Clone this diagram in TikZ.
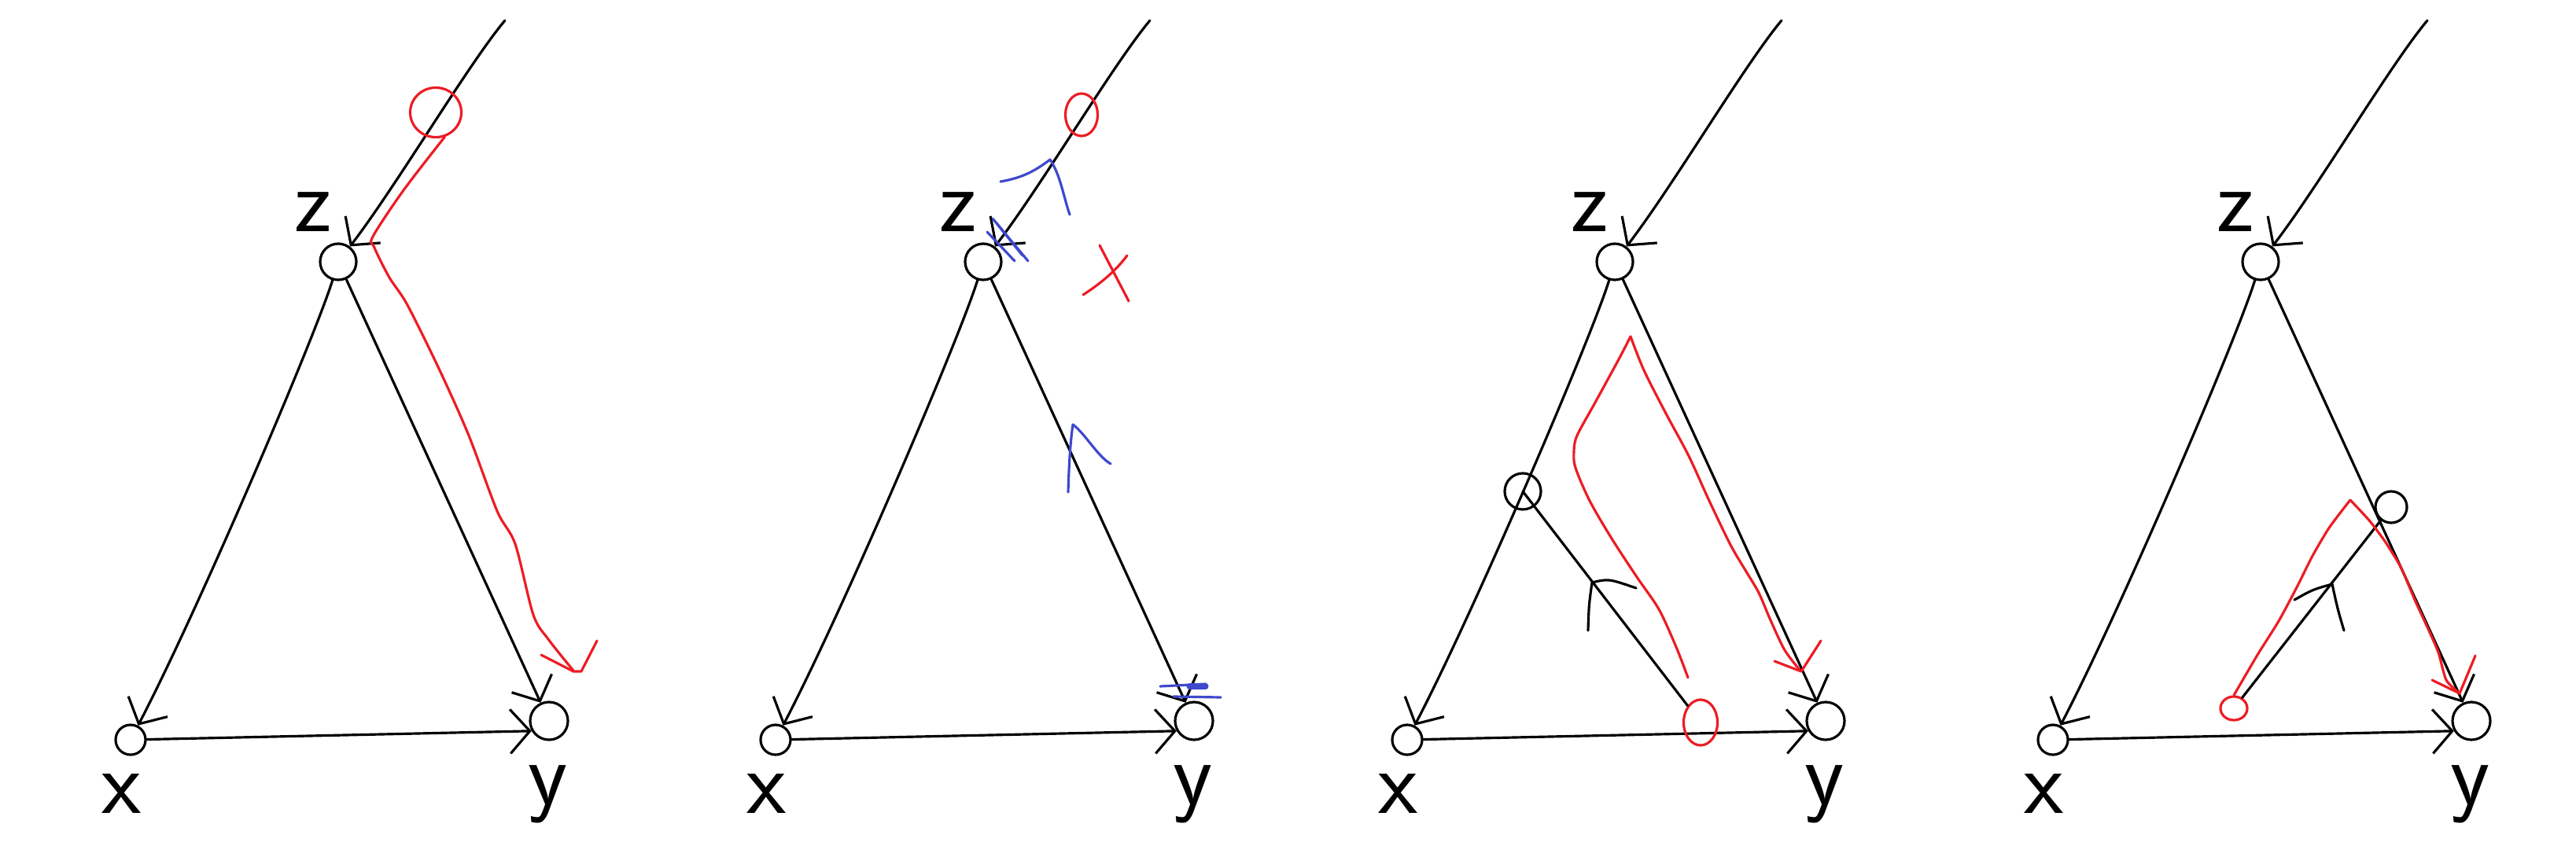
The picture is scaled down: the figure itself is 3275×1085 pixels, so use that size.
\documentclass[tikz,border=0pt]{standalone}
\usepackage{fontspec}
\usetikzlibrary{arrows.meta,shapes.geometric}
\definecolor{penred}{RGB}{236,28,36}
\definecolor{penblue}{RGB}{63,72,204}
\begin{document}
\begin{tikzpicture}[x=0.01cm,y=-0.01cm,
  ln/.style={line width=0.9pt, line cap=round, line join=round},
  arr/.style={ln, -{Straight Barb[length=0.25cm,width=0.56cm]}},
  nd/.style={circle, draw, line width=0.9pt, inner sep=0pt},
  rnd/.style={ellipse, draw=penred, line width=0.9pt, inner sep=0pt},
  lab/.style={font=\sffamily\fontsize{33}{33}\selectfont, inner sep=0pt},
  rl/.style={ln, penred},
  bl/.style={ln, penblue}]
\path[use as bounding box] (0,0) rectangle (3275,1085);

% ---- the same graph in all four panels ----
\foreach \i/\dx in {1/0,2/820,3/1623,4/2444}{
 \begin{scope}[shift={(\dx,0)}]
  \node[nd, minimum size=0.46cm] (z\i) at (430,333) {};
  \node[nd, minimum size=0.38cm] (x\i) at (166,941) {};
  \node[nd, minimum size=0.48cm] (y\i) at (698,917) {};
  \coordinate (t\i) at (642,26);
  \node[lab] (lz\i) at (398,270) {z};
  \node[lab] (lx\i) at (155,1010) {x};
  \node[lab] (ly\i) at (697,1010) {y};
  \draw[arr] (t\i) .. controls (595,82) and (505,235) .. (z\i);
  \draw[arr] (z\i) .. controls (400,430) and (250,780) .. (x\i);
  \draw[arr] (z\i) -- (y\i);
  \draw[arr] (x\i) -- (y\i.210);
 \end{scope}
}

% ---- panel 1 ----
\node[rnd, minimum width=0.65cm, minimum height=0.63cm] (rc1) at (554,143) {};
\draw[rl] plot[smooth, tension=0.5] coordinates {(rc1.-70) (513,242) (474,301) (476,315) (495,353) (518,388) (559,471) (596,554) (632,650) (655,692) (678,782) (697,813) (729,853)};
\draw[rl] (688,833) -- (729,854) -- (739,854) -- (759,815);

% ---- panel 2 ----
\node[rnd, minimum width=0.41cm, minimum height=0.54cm] (rc2) at (1375,146) {};
\draw[bl] (1272,231) .. controls (1300,226) and (1315,218) .. (1335,203) .. controls (1348,222) and (1352,250) .. (1360,273);
\draw[bl] (1262,278) -- (1307,332);
\draw[bl] (1267,284) -- (1300,325);
\draw[bl] (1255,295) -- (1290,332);
\draw[rl] (1398,312) -- (1435,383);
\draw[rl] (1377,375) .. controls (1400,360) and (1418,345) .. (1433,325);
\draw[bl] (1358,626) .. controls (1359,590) and (1361,560) .. (1364,540) .. controls (1380,552) and (1395,580) .. (1412,590);
\draw[bl] (1475,873) -- (1533,870);
\draw[bl, line width=2pt] (1512,873) -- (1533,873);
\draw[bl] (1492,886) -- (1552,887);

% ---- panel 3 ----
\node[nd, minimum size=0.46cm] (m3) at (1936,625) {};
\node[rnd, minimum width=0.43cm, minimum height=0.58cm] (r3) at (2162,919) {};
\draw[ln] (m3.center) -- (r3);
\draw[ln] (2019,802) .. controls (2020,770) .. (2024,741) .. controls (2045,736) .. (2080,748);
\draw[rl] plot[smooth, tension=0.5] coordinates {(2073,428) (2058,457) (2028,512) (2005,554) (2001,574) (2003,595) (2021,637) (2049,685) (2081,734) (2109,775) (2131,823) (2146,862)};
\draw[rl] plot[smooth, tension=0.5] coordinates {(2073,428) (2090,471) (2118,526) (2147,580) (2173,637) (2200,693) (2220,727) (2236,754) (2251,789) (2269,827) (2288,852)};
\draw[rl] (2256,841) -- (2290,854) -- (2315,815);

% ---- panel 4 ----
\node[nd, minimum size=0.40cm] (m4) at (3040,645) {};
\node[rnd, minimum width=0.34cm, minimum height=0.30cm] (r4) at (2840,901) {};
\draw[ln] (m4) -- (r4);
\draw[ln] (2917,763) .. controls (2940,750) .. (2965,743) .. controls (2972,775) .. (2980,802);
\draw[rl] plot[smooth, tension=0.4] coordinates {(r4.north) (2870,833) (2897,790) (2920,747) (2940,707) (2960,673) (2977,650) (2988,636)};
\draw[rl] plot[smooth, tension=0.4] coordinates {(2988,636) (3013,663) (3033,690) (3053,723) (3070,763) (3087,800) (3100,830) (3110,865) (3127,882)};
\draw[rl] (3092,865) -- (3127,882) -- (3147,834);
\end{tikzpicture}
\end{document}
